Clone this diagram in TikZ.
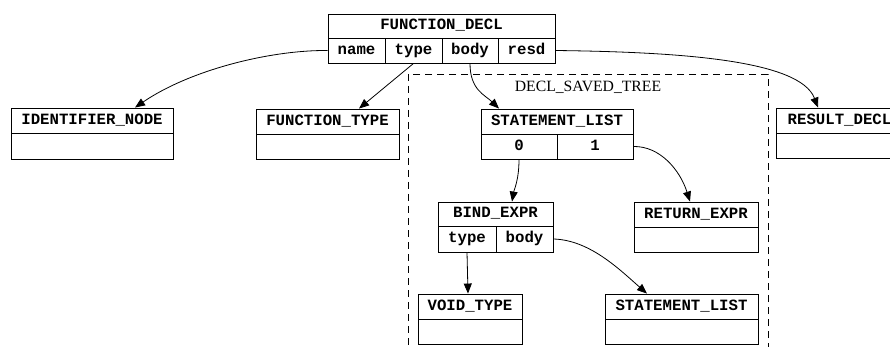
\documentclass[tikz,border=0pt]{standalone}
\usepackage{fontspec}
\setmainfont{Liberation Serif}
\setmonofont{Liberation Mono}
\usetikzlibrary{arrows.meta}

\begin{document}
\begin{tikzpicture}[x=1pt, y=-1pt, line width=0.9pt,
	rec/.style={draw, rectangle, inner sep=0pt, text height=10.5pt, text depth=3pt,
		font=\ttfamily\bfseries\fontsize{15.7}{18}\selectfont},
	edge/.style={-{Triangle[length=10pt, width=8pt]}, line width=0.8pt}]
	\useasboundingbox (0, 0) rectangle (890, 347);
	\clip (0, 0) rectangle (890, 347);

	% Кластер DECL_SAVED_TREE
	\draw[dash pattern=on 7pt off 5pt] (408, 74) rectangle (768, 380);
	\node[font=\fontsize{15.7}{18}\selectfont] (dst) at (588, 87) {DECL\_SAVED\_TREE};

	% FUNCTION_DECL
	\node[rec, minimum width=227pt, minimum height=24pt] (fd) at (441.5, 26) {FUNCTION\_DECL};
	\node[rec, minimum width=57pt, minimum height=25pt] (fdname) at (356.5, 50.5) {name};
	\node[rec, minimum width=57pt, minimum height=25pt] (fdtype) at (413.5, 50.5) {type};
	\node[rec, minimum width=56pt, minimum height=25pt] (fdbody) at (470, 50.5) {body};
	\node[rec, minimum width=57pt, minimum height=25pt] (fdresd) at (526.5, 50.5) {resd};

	% IDENTIFIER_NODE
	\node[rec, minimum width=162pt, minimum height=25pt] (idn) at (92, 120.5) {IDENTIFIER\_NODE};
	\node[rec, minimum width=162pt, minimum height=26pt] (idnx) at (92, 146) {};

	% FUNCTION_TYPE
	\node[rec, minimum width=143pt, minimum height=25pt] (fty) at (327.5, 121.5) {FUNCTION\_TYPE};
	\node[rec, minimum width=143pt, minimum height=25pt] (ftyx) at (327.5, 146.5) {};

	% STATEMENT_LIST (верхний)
	\node[rec, minimum width=152pt, minimum height=25pt] (sl) at (557, 121.5) {STATEMENT\_LIST};
	\node[rec, minimum width=76pt, minimum height=25pt] (slzero) at (519, 146.5) {0};
	\node[rec, minimum width=76pt, minimum height=25pt] (slone) at (595, 146.5) {1};

	% RESULT_DECL
	\node[rec, minimum width=127pt, minimum height=25pt] (rd) at (839.5, 120.5) {RESULT\_DECL};
	\node[rec, minimum width=127pt, minimum height=25pt] (rdx) at (839.5, 145.5) {};

	% BIND_EXPR
	\node[rec, minimum width=115pt, minimum height=24pt] (be) at (495.5, 214) {BIND\_EXPR};
	\node[rec, minimum width=58pt, minimum height=26pt] (betype) at (467, 239) {type};
	\node[rec, minimum width=57pt, minimum height=26pt] (bebody) at (524.5, 239) {body};

	% RETURN_EXPR
	\node[rec, minimum width=124pt, minimum height=25pt] (re) at (696, 214.5) {RETURN\_EXPR};
	\node[rec, minimum width=124pt, minimum height=25pt] (rex) at (696, 239.5) {};

	% VOID_TYPE
	\node[rec, minimum width=104pt, minimum height=25pt] (vt) at (470, 306.5) {VOID\_TYPE};
	\node[rec, minimum width=104pt, minimum height=25pt] (vtx) at (470, 331.5) {};

	% STATEMENT_LIST (нижний)
	\node[rec, minimum width=153pt, minimum height=25pt] (slb) at (681.5, 306.5) {STATEMENT\_LIST};
	\node[rec, minimum width=153pt, minimum height=25pt] (slbx) at (681.5, 331.5) {};

	% Стрелки
	\draw[edge] (fdname.west) .. controls (270, 50) and (190, 70) .. ([xshift=43pt]idn.north);
	\draw[edge] (fdtype.south) -- ([xshift=31.5pt]fty.north);
	\draw[edge] (fdbody.south) .. controls (470, 90) and (485, 95) .. ([xshift=-58pt]sl.north);
	\draw[edge] (fdresd.east) .. controls (680, 52) and (800, 60) .. ([xshift=-21.5pt]rd.north);
	\draw[edge] (slzero.south) .. controls (519, 180) and (514, 190) .. ([xshift=16.5pt]be.north);
	\draw[edge] (slone.east) .. controls (660, 146) and (680, 170) .. ([xshift=-6pt]re.north);
	\draw[edge] (betype.south) -- ([xshift=-2pt]vt.north);
	\draw[edge] (bebody.east) .. controls (590, 240) and (620, 270) .. ([xshift=-34.5pt]slb.north);
\end{tikzpicture}
\end{document}
